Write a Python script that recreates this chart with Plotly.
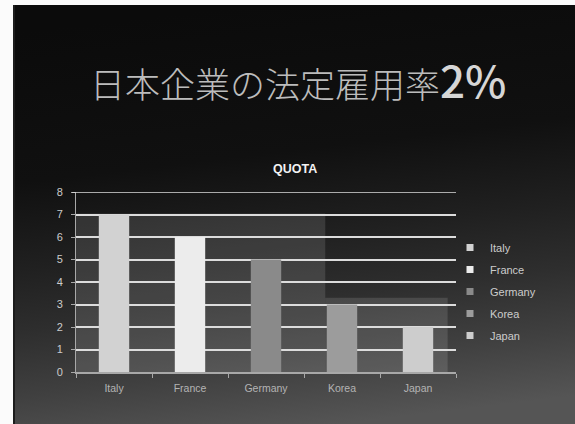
import base64
import plotly.graph_objects as go

# Statutory employment quota for persons with disabilities, by country (%)
countries = ["Italy", "France", "Germany", "Korea", "Japan"]
quota = [7, 6, 5, 3, 2]
bar_colors = ["#d2d2d2", "#ececec", "#8a8a8a", "#9c9c9c", "#cdcdcd"]
y_ticks = [0, 1, 2, 3, 4, 5, 6, 7, 8]

W, H = 575, 424
ML, MR, MT, MB = 76, 119, 192, 52
PW, PH = W - ML - MR, H - MT - MB
GRID = "#dcdcdc"

# Slide backdrop: dark gradient panel inside a thin white frame
svg = f"""<svg xmlns='http://www.w3.org/2000/svg' width='{W}' height='{H}' viewBox='0 0 {W} {H}' preserveAspectRatio='none'>
<defs>
<linearGradient id='g' x1='0.42' y1='0' x2='0.58' y2='1'>
<stop offset='0' stop-color='#0b0b0b'/>
<stop offset='0.35' stop-color='#101010'/>
<stop offset='0.55' stop-color='#202020'/>
<stop offset='0.7' stop-color='#2e2e2e'/>
<stop offset='0.85' stop-color='#404040'/>
<stop offset='1' stop-color='#555555'/>
</linearGradient>
</defs>
<rect width='{W}' height='{H}' fill='#fbfbfb'/>
<rect x='13' y='5' width='{W-13}' height='{H-5}' fill='url(#g)'/>
<rect x='13' y='5' width='2' height='{H-5}' fill='#1c1c1c'/>
</svg>"""
bg_uri = "data:image/svg+xml;base64," + base64.b64encode(svg.encode()).decode()

fig = go.Figure()
for name, val, col in zip(countries, quota, bar_colors):
    fig.add_trace(go.Bar(
        x=[name], y=[val], name=name,
        marker=dict(color=col, line=dict(width=0)),
        legendgroup=name, showlegend=False,
    ))
    # small square legend key for the same country
    fig.add_trace(go.Scatter(
        x=[None], y=[None], mode="markers", name=name,
        marker=dict(symbol="square", size=7, color=col),
        legendgroup=name, showlegend=True,
    ))

# Lighter stepped panel behind the bars
fig.add_shape(type="rect", xref="x", yref="y", x0=-0.5, x1=2.78, y0=0, y1=7.05,
              fillcolor="rgba(255,255,255,0.12)", line=dict(width=0), layer="below")
fig.add_shape(type="rect", xref="x", yref="y", x0=2.78, x1=4.39, y0=0, y1=3.3,
              fillcolor="rgba(255,255,255,0.12)", line=dict(width=0), layer="below")
# gridline at the top of the value range (sits on the plot edge)
fig.add_shape(type="line", xref="paper", yref="y", x0=-4 / PW, x1=1, y0=8, y1=8,
              line=dict(color=GRID, width=1.5), layer="above")

fig.update_layout(
    width=W, height=H,
    margin=dict(l=ML, r=MR, t=MT, b=MB, pad=0),
    paper_bgcolor="white",
    plot_bgcolor="rgba(0,0,0,0)",
    barmode="overlay",
    bargap=0.6,
    font=dict(family="Liberation Sans, Arial, sans-serif", color="#b8b8b8", size=10),
    showlegend=True,
    legend=dict(
        x=(450 - ML) / PW, y=1 + (MT - 233) / PH, xanchor="left", yanchor="top",
        bgcolor="rgba(0,0,0,0)", font=dict(size=11, color="#cccccc"),
        traceorder="grouped", tracegroupgap=3, itemwidth=30,
    ),
    images=[dict(
        source=bg_uri, xref="paper", yref="paper",
        x=-ML / PW, y=1 + MT / PH, sizex=W / PW, sizey=H / PH,
        xanchor="left", yanchor="top", sizing="stretch", layer="below",
    )],
    xaxis=dict(
        type="category", range=[-0.5, 4.5],
        showgrid=False, showline=True, linecolor="#a8a8a8", linewidth=1.5,
        ticks="outside", tickson="boundaries", ticklen=4, tickcolor="#a8a8a8",
        ticklabelstandoff=6,
        tickfont=dict(size=10.5, color="#b4b4b4"), zeroline=False,
    ),
    yaxis=dict(
        range=[0, 8], tickvals=y_ticks, showgrid=True, gridcolor=GRID, gridwidth=1.5,
        showline=True, linecolor="#a8a8a8", linewidth=1,
        ticks="outside", ticklen=4, tickcolor="#a8a8a8",
        ticklabelstandoff=6,
        tickfont=dict(size=11, color="#cccccc"), zeroline=False,
    ),
    annotations=[
        dict(
            text="日本企業の法定雇用率<span style='font-size:44px;font-weight:500;fill:#d6d6d6'>2%</span>",
            xref="paper", yref="paper", x=(298 - ML) / PW, y=1 + (MT - 79) / PH,
            xanchor="center", yanchor="middle", showarrow=False,
            font=dict(family="Noto Sans CJK JP", size=35, color="#bcbcbc", weight=300),
        ),
        dict(
            text="<b>QUOTA</b>", xref="paper", yref="paper",
            x=(295 - ML) / PW, y=1 + (MT - 169) / PH,
            xanchor="center", yanchor="middle", showarrow=False,
            font=dict(family="Liberation Sans, Arial, sans-serif", size=12.5, color="#f2f2f2"),
        ),
    ],
)

fig.write_html("out.html")
